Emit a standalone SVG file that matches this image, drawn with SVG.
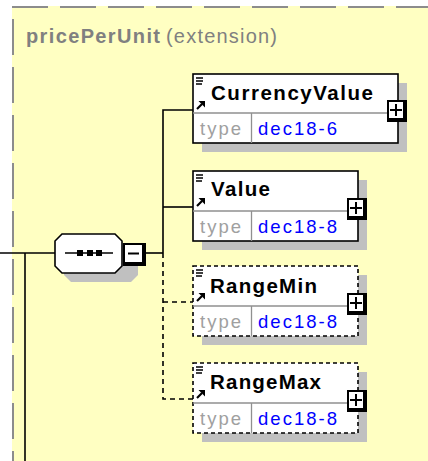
<svg xmlns="http://www.w3.org/2000/svg" width="428" height="461" viewBox="0 0 428 461">
<defs>
<style>
.bg{fill:#FFFFC2}
.border{stroke:#8C8C8C;stroke-width:2;fill:none;stroke-dasharray:36 12}
.title{font-family:"Liberation Sans",Arial,sans-serif;font-size:20px;fill:#808080}
.shadow{fill:#C0C0C0}
.box{fill:#FFFFFF;stroke:#000;stroke-width:1.6}
.opt{stroke-dasharray:4 3}
.div{stroke:#909090;stroke-width:1.3}
.name{font-family:"Liberation Sans",Arial,sans-serif;font-size:20.5px;font-weight:bold;fill:#000}
.tl{font-family:"Liberation Sans",Arial,sans-serif;font-size:18.5px;fill:#A0A0A0}
.tv{font-family:"Liberation Sans",Arial,sans-serif;font-size:18.5px;fill:#0000FF}
.ln{stroke:#000;stroke-width:1.6;fill:none}
.dln{stroke:#000;stroke-width:1.6;fill:none;stroke-dasharray:5 4}
.ic{stroke:#000;stroke-width:1.5}
</style>
<g id="plus">
<rect x="0" y="0" width="20" height="22" fill="#000"/>
<rect x="2" y="2" width="14" height="16" fill="#FFF"/>
<path d="M3 10H15M9 4V16" stroke="#000" stroke-width="2"/>
</g>
<g id="icon">
<path d="M3 4H10M3 7H10M3 10H9" class="ic"/>
<path d="M4 35L9 30" stroke="#000" stroke-width="2.2"/>
<path d="M5.5 27H12V33.5Z" fill="#000"/>
</g>
</defs>

<rect class="bg" x="12" y="6" width="416" height="455"/>
<path class="border" d="M12 7H428"/>
<path class="border" d="M13 19V461"/>
<text class="title" x="26" y="43" font-weight="bold" textLength="134" lengthAdjust="spacing">pricePerUnit</text>
<text class="title" x="166" y="43" textLength="111" lengthAdjust="spacing">(extension)</text>

<g id="connectors">
<path class="ln" d="M0 253H55"/>
<path class="ln" d="M25 253V461"/>
<path class="ln" d="M146 253H163"/>
<path class="ln" d="M163 253V110H193"/>
<path class="ln" d="M163 207H193"/>
<path class="dln" d="M163 253V399H193"/>
<path class="dln" d="M163 302H193"/>
</g>

<g id="sequence">
<path class="shadow" d="M71 243H131L138 250V275L131 282H71L64 275V250Z"/>
<path d="M62 234H115L122 241V266L115 273H62L55 266V241Z" fill="#FFF" stroke="#000" stroke-width="1.6"/>
<path class="ln" d="M65 253H113"/>
<rect x="77" y="250" width="6" height="6" fill="#000"/>
<rect x="87" y="250" width="6" height="6" fill="#000"/>
<rect x="96" y="250" width="6" height="6" fill="#000"/>
<rect x="123" y="243" width="23" height="23" fill="#000"/>
<rect x="125" y="245" width="17" height="17" fill="#FFF"/>
<path d="M128 253.5H139" stroke="#000" stroke-width="2"/>
</g>

<g id="CurrencyValue">
<rect class="shadow" x="202" y="83" width="205" height="69"/>
<rect class="box" x="193" y="74" width="205" height="69"/>
<path class="div" d="M193 113H398M251.5 113V143"/>
<use href="#icon" x="193" y="74"/>
<text class="name" x="211" y="100" textLength="162" lengthAdjust="spacing">CurrencyValue</text>
<text class="tl" x="200" y="135" textLength="41" lengthAdjust="spacing">type</text>
<text class="tv" x="258" y="135" textLength="79" lengthAdjust="spacing">dec18-6</text>
<use href="#plus" x="387" y="100"/>
</g>

<g id="Value">
<rect class="shadow" x="202" y="180" width="165" height="70"/>
<rect class="box" x="193" y="171" width="165" height="70"/>
<path class="div" d="M193 211H358M251.5 211V241"/>
<use href="#icon" x="193" y="171"/>
<text class="name" x="211" y="196" textLength="59" lengthAdjust="spacing">Value</text>
<text class="tl" x="200" y="233" textLength="41" lengthAdjust="spacing">type</text>
<text class="tv" x="258" y="233" textLength="79" lengthAdjust="spacing">dec18-8</text>
<use href="#plus" x="347" y="198"/>
</g>

<g id="RangeMin">
<rect class="shadow" x="202" y="275" width="165" height="70"/>
<rect class="box opt" x="193" y="266" width="165" height="70"/>
<path class="div" d="M193 306H358M251.5 306V336"/>
<use href="#icon" x="193" y="266"/>
<text class="name" x="210" y="293" textLength="107" lengthAdjust="spacing">RangeMin</text>
<text class="tl" x="200" y="328" textLength="41" lengthAdjust="spacing">type</text>
<text class="tv" x="258" y="328" textLength="79" lengthAdjust="spacing">dec18-8</text>
<use href="#plus" x="347" y="293"/>
</g>

<g id="RangeMax">
<rect class="shadow" x="202" y="372" width="165" height="70"/>
<rect class="box opt" x="193" y="363" width="165" height="70"/>
<path class="div" d="M193 403H358M251.5 403V433"/>
<use href="#icon" x="193" y="363"/>
<text class="name" x="210" y="389" textLength="111" lengthAdjust="spacing">RangeMax</text>
<text class="tl" x="200" y="425" textLength="41" lengthAdjust="spacing">type</text>
<text class="tv" x="258" y="425" textLength="79" lengthAdjust="spacing">dec18-8</text>
<use href="#plus" x="347" y="390"/>
</g>
</svg>
